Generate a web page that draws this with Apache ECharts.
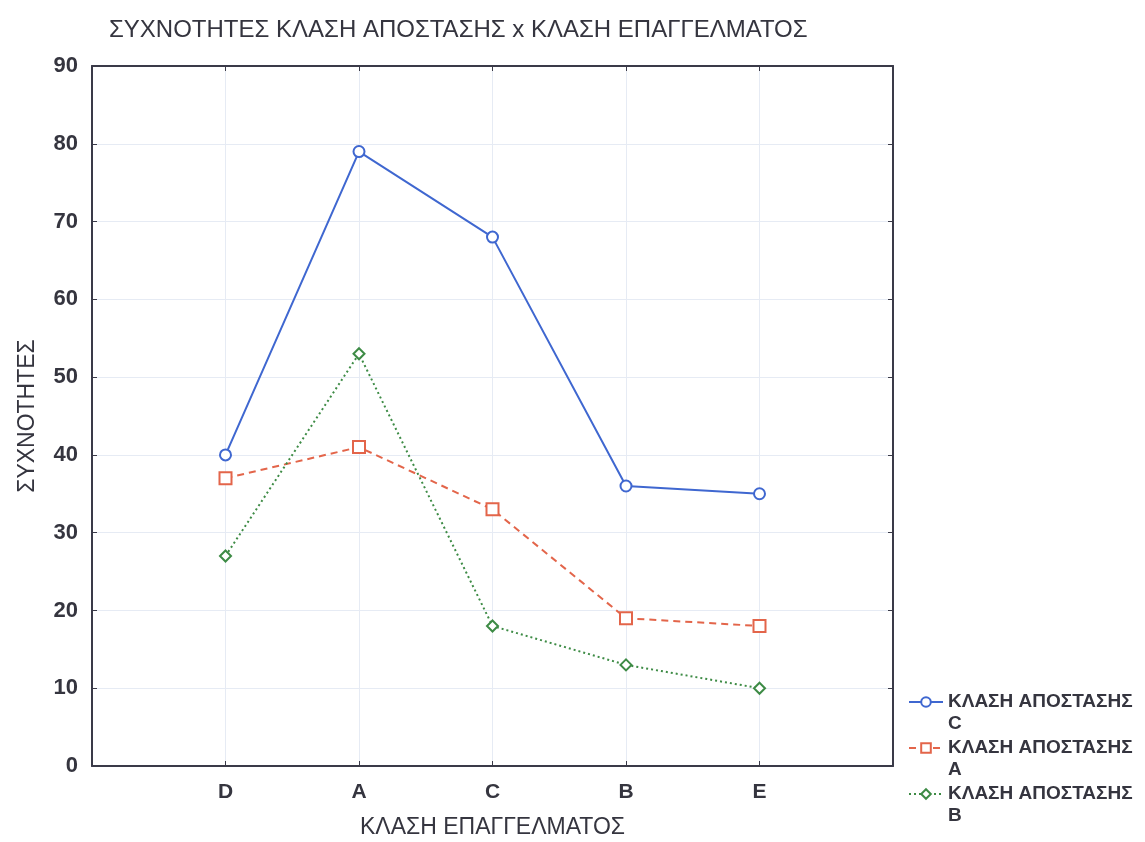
<!DOCTYPE html>
<html>
<head>
<meta charset="utf-8">
<script src="https://cdn.jsdelivr.net/npm/echarts@6/dist/echarts.min.js"></script>
<style>
  html, body { margin: 0; padding: 0; background: #ffffff; }
  #main { width: 1145px; height: 842px; }
</style>
</head>
<body>
<div id="main"></div>
<script>
  // κατηγορίες (με κενές θέσεις στις άκρες)
  var categories = ['', 'D', 'A', 'C', 'B', 'E', ''];
  var seriesNames = ['ΚΛΑΣΗ ΑΠΟΣΤΑΣΗΣ C', 'ΚΛΑΣΗ ΑΠΟΣΤΑΣΗΣ A', 'ΚΛΑΣΗ ΑΠΟΣΤΑΣΗΣ B'];
  var valuesC = ['-', 40, 79, 68, 36, 35, '-'];
  var valuesA = ['-', 37, 41, 33, 19, 18, '-'];
  var valuesB = ['-', 27, 53, 18, 13, 10, '-'];

  var font = 'Liberation Sans, Arial, sans-serif';
  var axisColor = '#3a3a48';
  var textColor = '#35353f';

  var chart = echarts.init(document.getElementById('main'));
  chart.setOption({
    backgroundColor: '#ffffff',
    animation: false,
    title: {
      text: 'ΣΥΧΝΟΤΗΤΕΣ ΚΛΑΣΗ ΑΠΟΣΤΑΣΗΣ x ΚΛΑΣΗ ΕΠΑΓΓΕΛΜΑΤΟΣ',
      left: 104,
      top: 13,
      textStyle: { fontFamily: font, fontSize: 24, fontWeight: 'normal', color: textColor }
    },
    legend: {
      orient: 'vertical',
      left: 903,
      top: 664,
      itemWidth: 34,
      itemHeight: 12,
      itemGap: -20,
      data: seriesNames,
      // κενή πρώτη γραμμή ώστε το εικονίδιο να στοιχίζεται με την πρώτη γραμμή κειμένου
      formatter: function (name) {
        return '\n' + name.replace(' ΑΠΟΣΤΑΣΗΣ ', ' ΑΠΟΣΤΑΣΗΣ\n');
      },
      textStyle: { fontFamily: font, fontSize: 19, fontWeight: 'bold', color: textColor, lineHeight: 22 }
    },
    grid: {
      left: 92,
      right: 252,
      top: 66,
      bottom: 76,
      outerBoundsMode: 'none'
    },
    xAxis: [
      {
        type: 'category',
        data: categories,
        boundaryGap: false,
        name: 'ΚΛΑΣΗ ΕΠΑΓΓΕΛΜΑΤΟΣ',
        nameLocation: 'middle',
        nameGap: 50,
        nameTextStyle: { fontFamily: font, fontSize: 23, color: textColor },
        axisLine: { onZero: false, lineStyle: { color: axisColor, width: 2 } },
        axisTick: { inside: true, length: 5, lineStyle: { color: axisColor } },
        axisLabel: { fontFamily: font, fontSize: 21, fontWeight: 'bold', color: textColor, margin: 16 },
        splitLine: { show: true, lineStyle: { color: '#e6ebf4', width: 1 } }
      },
      {
        type: 'category',
        data: categories,
        boundaryGap: false,
        position: 'top',
        axisLine: { onZero: false, lineStyle: { color: axisColor, width: 2 } },
        axisTick: { inside: true, length: 5, lineStyle: { color: axisColor } },
        axisLabel: { show: false },
        splitLine: { show: false }
      }
    ],
    yAxis: [
      {
        type: 'value',
        min: 0,
        max: 90,
        interval: 10,
        name: 'ΣΥΧΝΟΤΗΤΕΣ',
        nameLocation: 'middle',
        nameGap: 53,
        nameTextStyle: { fontFamily: font, fontSize: 23, color: textColor },
        axisLine: { show: true, onZero: false, lineStyle: { color: axisColor, width: 2 } },
        axisTick: { show: true, inside: true, length: 5, lineStyle: { color: axisColor } },
        axisLabel: { fontFamily: font, fontSize: 22, fontWeight: 'bold', color: textColor, margin: 14 },
        splitLine: { show: true, lineStyle: { color: '#e6ebf4', width: 1 } }
      },
      {
        type: 'value',
        min: 0,
        max: 90,
        interval: 10,
        position: 'right',
        axisLine: { show: true, onZero: false, lineStyle: { color: axisColor, width: 2 } },
        axisTick: { show: true, inside: true, length: 5, lineStyle: { color: axisColor } },
        axisLabel: { show: false },
        splitLine: { show: false }
      }
    ],
    series: [
      {
        name: seriesNames[0],
        type: 'line',
        data: valuesC,
        symbol: 'circle',
        symbolSize: 11,
        itemStyle: { color: '#ffffff', borderColor: '#3f67d0', borderWidth: 2 },
        lineStyle: { color: '#3f67d0', width: 2, type: 'solid' }
      },
      {
        name: seriesNames[1],
        type: 'line',
        data: valuesA,
        symbol: 'rect',
        symbolSize: 12,
        itemStyle: { color: '#ffffff', borderColor: '#e3654a', borderWidth: 2 },
        lineStyle: { color: '#e3654a', width: 2, type: [7, 5] }
      },
      {
        name: seriesNames[2],
        type: 'line',
        data: valuesB,
        symbol: 'diamond',
        symbolSize: 11,
        itemStyle: { color: '#ffffff', borderColor: '#3d8b45', borderWidth: 2 },
        lineStyle: { color: '#3d8b45', width: 2, type: [2, 3] }
      }
    ]
  });
</script>
</body>
</html>
